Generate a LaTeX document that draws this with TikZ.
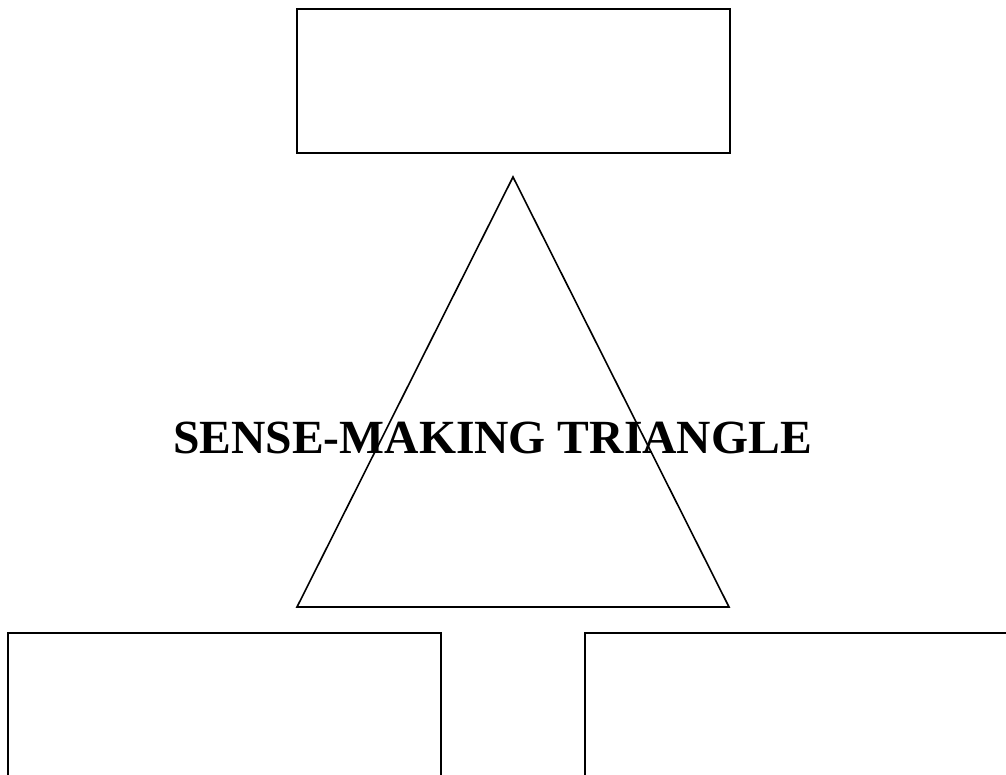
\documentclass[tikz,border=0pt]{standalone}
\usepackage{fontspec}
\setmainfont{Liberation Serif}
\begin{document}
\begin{tikzpicture}[x=1pt,y=-1pt,
  boxstyle/.style={draw=black,line width=2pt,rectangle,inner sep=0pt,minimum width=433pt,minimum height=144pt},
  tri/.style={draw=black,line width=1.6pt,line join=miter}]
\useasboundingbox (0,0) rectangle (1006,775);
\clip (0,0) rectangle (1006,775);
\node[boxstyle] (top) at (513,81) {};
\node[boxstyle] (bl) at (224.5,705) {};
\node[boxstyle] (br) at (801.5,705) {};
\coordinate (apex) at (513,177);
\coordinate (bleft) at (297,607);
\coordinate (bright) at (729,607);
\draw[tri] (apex) -- (bleft) -- (bright) -- cycle;
\node[anchor=base,inner sep=0pt,font=\fontsize{47.6}{57}\selectfont\bfseries] (title) at (492.5,453) {SENSE-MAKING TRIANGLE};
\end{tikzpicture}
\end{document}
